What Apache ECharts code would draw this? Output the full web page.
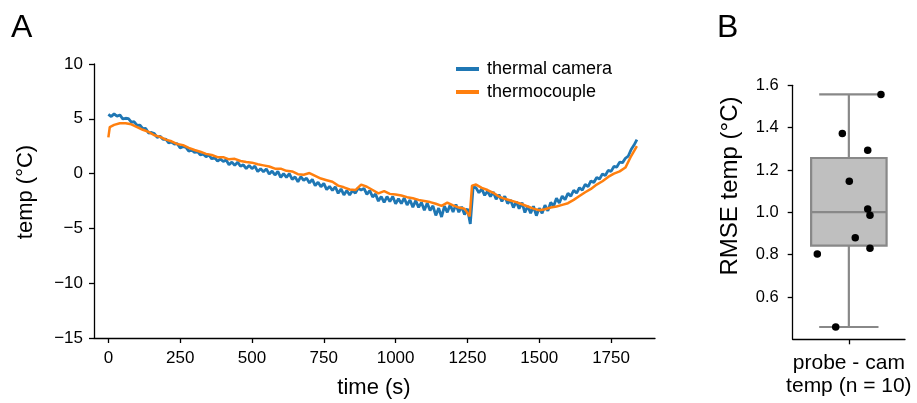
<!DOCTYPE html>
<html><head><meta charset="utf-8">
<script src="https://cdn.jsdelivr.net/npm/echarts@6/dist/echarts.min.js"></script>
<style>html,body{margin:0;padding:0;background:#fff}#c{width:917px;height:403px}</style>
</head><body><div id="c"></div>
<script>
// ---- Panel A data ----
const camStart = 0;
const camStep = 10; // seconds between camera samples
const camValues = [
 5.4,5.2,5.45,5.23,5.35,5.0,5.05,5.02,4.7,4.73,
 4.4,4.42,4.1,4.12,3.7,3.75,3.65,3.3,3.41,3.13,
 3.15,2.8,2.88,2.7,2.73,2.35,2.45,2.4,2.05,2.15,
 1.92,2.03,1.7,1.78,1.54,1.7,1.35,1.45,1.13,1.33,
 1.1,1.24,0.8,1.05,0.75,1.05,0.67,0.8,0.45,0.75,
 0.45,0.69,0.18,0.45,0.16,0.43,-0.05,0.23,-0.13,0.21,
 -0.35,0.0,-0.34,-0.01,-0.53,-0.3,-0.74,-0.28,-0.62,-0.41,
 -0.85,-0.52,-1.1,-0.78,-1.2,-0.9,-1.46,-1.16,-1.54,-1.2,
 -1.8,-1.4,-1.95,-1.55,-1.95,-1.55,-1.78,-1.32,-1.5,-1.35,
 -1.9,-1.54,-2.13,-1.87,-2.51,-2.1,-2.62,-2.09,-2.56,-2.08,
 -2.75,-2.29,-2.73,-2.22,-2.86,-2.4,-3.06,-2.47,-3.08,-2.64,
 -3.35,-2.68,-3.36,-2.94,-3.82,-3.15,-3.96,-2.97,-3.53,-2.84,
 -3.5,-2.81,-3.52,-3.03,-3.74,-3.2,-4.6,-1.2,-1.3,-1.75,
 -1.4,-1.98,-1.61,-2.09,-1.67,-2.35,-1.92,-2.54,-2.06,-2.73,
 -2.4,-3.1,-2.55,-3.2,-2.65,-3.55,-2.96,-3.62,-2.98,-3.84,
 -3.15,-3.62,-2.88,-3.4,-2.63,-2.97,-2.25,-2.68,-2.05,-2.38,
 -1.8,-2.06,-1.52,-1.78,-1.29,-1.5,-0.99,-1.18,-0.67,-0.81,
 -0.35,-0.49,-0.03,-0.17,0.29,0.2,0.65,0.6,1.05,1.0,
 1.4,1.6,2.2,2.6,3.1
];
const tcTimes = [0,5,20,40,60,80,100,120,140,160,180,200,220,240,260,280,300,320,340,360,380,400,420,440,460,480,500,520,540,560,580,600,620,640,660,680,700,720,740,760,780,800,820,840,860,880,900,920,940,960,980,1000,1020,1040,1060,1080,1100,1120,1140,1160,1180,1200,1220,1240,1258,1266,1280,1300,1320,1340,1360,1380,1400,1420,1440,1460,1480,1500,1520,1540,1560,1580,1600,1620,1640,1660,1680,1700,1720,1740,1760,1780,1800,1820,1840];
const tcValues = [3.3,4.25,4.45,4.6,4.6,4.5,4.25,4.0,3.8,3.5,3.35,3.1,2.95,2.7,2.6,2.35,2.15,2.0,1.8,1.7,1.5,1.5,1.3,1.35,1.15,1.05,1.0,0.85,0.75,0.65,0.45,0.45,0.25,0.2,-0.05,-0.1,0.05,-0.2,-0.45,-0.6,-0.75,-1.1,-1.25,-1.45,-1.5,-1.0,-1.2,-1.5,-1.8,-1.6,-1.85,-1.9,-2.0,-2.15,-2.25,-2.4,-2.5,-2.6,-2.75,-2.95,-2.65,-2.9,-3.1,-3.2,-3.9,-1.1,-1.0,-1.3,-1.5,-1.75,-2.1,-2.3,-2.45,-2.6,-2.8,-3.0,-3.2,-3.35,-3.25,-3.1,-3.0,-2.85,-2.7,-2.4,-2.05,-1.7,-1.4,-1.0,-0.7,-0.3,0.0,0.2,0.55,1.6,2.5];
const xTicksA = [0,250,500,750,1000,1250,1500,1750];
const yTicksA = [-15,-10,-5,0,5,10];

// ---- Panel B data ----
const rmseValues = [1.557,1.372,1.293,1.147,1.016,0.986,0.880,0.830,0.803,0.458];
const rmseJitter = [0.286,-0.058,0.168,0.004,0.168,0.188,0.057,0.188,-0.281,-0.117];
const yTicksB = [0.6,0.8,1.0,1.2,1.4,1.6];
const catLabelB = 'probe - cam\ntemp (n = 10)';

// build series data
const camData = camValues.map((v, i) => [camStart + i * camStep, v]);
const tcData = tcValues.map((v, i) => [tcTimes[i], v]);
function quantile(sorted, p) {
  const pos = (sorted.length - 1) * p, lo = Math.floor(pos), hi = Math.ceil(pos);
  return sorted[lo] + (sorted[hi] - sorted[lo]) * (pos - lo);
}
const s = rmseValues.slice().sort((a, b) => a - b);
const boxStats = [0, s[0], quantile(s, 0.25), quantile(s, 0.5), quantile(s, 0.75), s[s.length - 1]];
const scatterData = rmseValues.map((v, i) => [rmseJitter[i], v]);

const FONT = '"Liberation Sans", Arial, sans-serif';
const minus = v => String(v).replace('-', '\u2212');
const axisLineStyle = { onZero: false, lineStyle: { color: '#000', width: 1.3 } };
const tickStyle = { show: true, inside: false, length: 5, lineStyle: { color: '#000', width: 1.3 } };

const chart = echarts.init(document.getElementById('c'), null, { renderer: 'canvas' });
chart.setOption({
  animation: false,
  backgroundColor: '#fff',
  textStyle: { fontFamily: FONT },
  grid: [
    { left: 94, top: 64, width: 561, height: 274 },
    { left: 792.7, top: 85.3, width: 112.3, height: 254 }
  ],
  xAxis: [
    { type: 'value', gridIndex: 0, min: -50, max: 1903, splitLine: { show: false },
      axisLine: axisLineStyle, axisTick: Object.assign({ customValues: xTicksA }, tickStyle),
      axisLabel: { customValues: xTicksA, formatter: v => String(v), color: '#000', fontSize: 17, margin: 12, fontFamily: FONT } },
    { type: 'value', gridIndex: 1, min: -0.5, max: 0.5, splitLine: { show: false },
      axisLine: axisLineStyle, axisTick: Object.assign({ customValues: [0] }, tickStyle),
      axisLabel: { customValues: [0], formatter: () => catLabelB, color: '#000', fontSize: 21, lineHeight: 23, margin: 12, fontFamily: FONT } }
  ],
  yAxis: [
    { type: 'value', gridIndex: 0, min: -15, max: 10, interval: 5, splitLine: { show: false },
      axisLine: Object.assign({ show: true }, axisLineStyle), axisTick: Object.assign({ customValues: yTicksA }, tickStyle),
      axisLabel: { customValues: yTicksA, formatter: minus, color: '#000', fontSize: 17, margin: 11, fontFamily: FONT } },
    { type: 'value', gridIndex: 1, min: 0.4, max: 1.6, splitLine: { show: false },
      axisLine: Object.assign({ show: true }, axisLineStyle), axisTick: Object.assign({ customValues: yTicksB }, tickStyle),
      axisLabel: { customValues: yTicksB, formatter: v => Number(v).toFixed(1), color: '#000', fontSize: 16.5, margin: 14, fontFamily: FONT } }
  ],
  legend: {
    left: 451, top: 55, orient: 'vertical', itemWidth: 23, itemHeight: 4, itemGap: 5,
    textStyle: { fontSize: 18, color: '#000', fontFamily: FONT, padding: [0, 0, 0, 3] },
    data: [{ name: 'thermal camera', icon: 'rect' }, { name: 'thermocouple', icon: 'rect' }]
  },
  graphic: [
    { type: 'text', left: 11, top: 12, style: { text: 'A', fontSize: 32, fill: '#000', fontFamily: FONT } },
    { type: 'text', left: 717, top: 12, style: { text: 'B', fontSize: 32, fill: '#000', fontFamily: FONT } },
    { type: 'text', x: 374, y: 388, style: { text: 'time (s)', fontSize: 22, fill: '#000', fontFamily: FONT, align: 'center', verticalAlign: 'middle' } },
    { type: 'text', x: 26, y: 192, rotation: Math.PI / 2, style: { text: 'temp (\u00B0C)', fontSize: 22, fill: '#000', fontFamily: FONT, align: 'center', verticalAlign: 'middle' } },
    { type: 'text', x: 730, y: 186, rotation: Math.PI / 2, style: { text: 'RMSE temp (\u00B0C)', fontSize: 24, fill: '#000', fontFamily: FONT, align: 'center', verticalAlign: 'middle' } }
  ],
  series: [
    { name: 'thermal camera', type: 'line', xAxisIndex: 0, yAxisIndex: 0, data: camData, showSymbol: false,
      color: '#1f77b4', lineStyle: { width: 2.8, color: '#1f77b4' }, z: 2 },
    { name: 'thermocouple', type: 'line', xAxisIndex: 0, yAxisIndex: 0, data: tcData, showSymbol: false,
      color: '#ff7f0e', lineStyle: { width: 2.5, color: '#ff7f0e' }, z: 3 },
    { type: 'custom', xAxisIndex: 1, yAxisIndex: 1, data: [boxStats], z: 2,
      renderItem: function (params, api) {
        const x = api.value(0), mn = api.value(1), q1 = api.value(2), md = api.value(3), q3 = api.value(4), mx = api.value(5);
        const hw = 0.336, cw = 0.264;
        const p = (a, b) => api.coord([a, b]);
        const st = { stroke: '#888888', lineWidth: 2.2 };
        const bl = p(x - hw, q3), br = p(x + hw, q1);
        return { type: 'group', children: [
          { type: 'line', shape: { x1: p(x, q3)[0], y1: p(x, q3)[1], x2: p(x, mx)[0], y2: p(x, mx)[1] }, style: st },
          { type: 'line', shape: { x1: p(x, q1)[0], y1: p(x, q1)[1], x2: p(x, mn)[0], y2: p(x, mn)[1] }, style: st },
          { type: 'line', shape: { x1: p(x - cw, mx)[0], y1: p(x - cw, mx)[1], x2: p(x + cw, mx)[0], y2: p(x + cw, mx)[1] }, style: st },
          { type: 'line', shape: { x1: p(x - cw, mn)[0], y1: p(x - cw, mn)[1], x2: p(x + cw, mn)[0], y2: p(x + cw, mn)[1] }, style: st },
          { type: 'rect', shape: { x: bl[0], y: bl[1], width: br[0] - bl[0], height: br[1] - bl[1] }, style: { fill: '#bfbfbf', stroke: '#888888', lineWidth: 2.2 } },
          { type: 'line', shape: { x1: p(x - hw, md)[0], y1: p(x - hw, md)[1], x2: p(x + hw, md)[0], y2: p(x + hw, md)[1] }, style: st }
        ] };
      } },
    { type: 'scatter', xAxisIndex: 1, yAxisIndex: 1, data: scatterData, symbolSize: 7.5, itemStyle: { color: '#000', opacity: 1 }, z: 5 }
  ]
});
</script>
</body></html>
